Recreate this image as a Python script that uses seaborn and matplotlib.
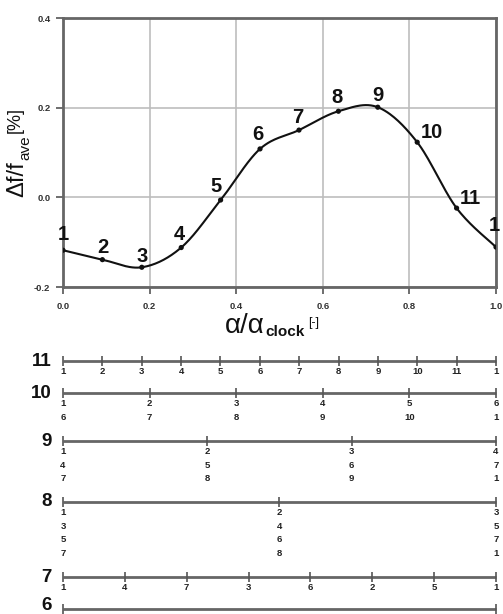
import numpy as np
import pandas as pd
import matplotlib
matplotlib.use("Agg")
import matplotlib.pyplot as plt
import seaborn as sns

# ---------------- data ----------------
point_labels = ['1', '2', '3', '4', '5', '6', '7', '8', '9', '10', '11', '1']
alpha_ratio = [0.000, 0.091, 0.182, 0.273, 0.364, 0.455, 0.545, 0.636, 0.727, 0.818, 0.909, 1.000]
delta_f = [-0.118, -0.139, -0.156, -0.112, -0.006, 0.108, 0.150, 0.192, 0.201, 0.123, -0.024, -0.111]

x_ticks = [0.0, 0.2, 0.4, 0.6, 0.8, 1.0]
y_ticks = [-0.2, 0.0, 0.2, 0.4]

row_names = ['11', '10', '9', '8', '7', '6']
row_11_labels = ['1', '2', '3', '4', '5', '6', '7', '8', '9', '10', '11', '1']
row_10_labels = ['1\n6', '2\n7', '3\n8', '4\n9', '5\n10', '6\n1']
row_9_labels = ['1\n4\n7', '2\n5\n8', '3\n6\n9', '4\n7\n1']
row_8_labels = ['1\n3\n5\n7', '2\n4\n6\n8', '3\n5\n7\n1']
row_7_labels = ['1', '4', '7', '3', '6', '2', '5', '1']
row_6_labels = ['', '']
row_labels = [row_11_labels, row_10_labels, row_9_labels, row_8_labels, row_7_labels, row_6_labels]

# ---------------- style ----------------
sns.set_theme(style="white")
plt.rcParams['font.family'] = ['Liberation Sans', 'DejaVu Sans']

W, H = 503, 614
fig = plt.figure(figsize=(W / 100, H / 100), dpi=100)
fig.patch.set_facecolor('white')


def fx(px):
    return px / W


def fy(py):
    return 1 - py / H


# ---------------- top chart ----------------
ax = fig.add_axes([fx(63), fy(287), 433 / W, 269 / H])

# smooth (Excel-like) curve through the points
P = np.column_stack([np.array(alpha_ratio), np.array(delta_f)])
Pext = np.vstack([P[0], P, P[-1]])
t = np.linspace(0, 1, 30)
xs, ys = [], []
for i in range(len(P) - 1):
    p0, p1, p2, p3 = Pext[i], Pext[i + 1], Pext[i + 2], Pext[i + 3]
    c1 = p1 + (p2 - p0) / 6
    c2 = p2 - (p3 - p1) / 6
    seg = ((1 - t) ** 3)[:, None] * p1 + (3 * (1 - t) ** 2 * t)[:, None] * c1 \
        + (3 * (1 - t) * t ** 2)[:, None] * c2 + (t ** 3)[:, None] * p2
    xs.extend(seg[:, 0])
    ys.extend(seg[:, 1])
curve = pd.DataFrame({'x': xs, 'y': ys})
sns.lineplot(data=curve, x='x', y='y', sort=False, color='#111111', lw=1.5, ax=ax)
pts = pd.DataFrame({'x': alpha_ratio, 'y': delta_f})
sns.scatterplot(data=pts, x='x', y='y', color='#111111', s=14, edgecolor='none', ax=ax, zorder=5)

label_offsets = [(0, 16), (0, 12), (0, 11), (-2, 13), (-5, 14), (-2, 14), (-1, 13),
                 (-1, 14), (0, 12), (4, 10), (3, 10), (-2, 22)]
label_ha = ['center'] * 9 + ['left', 'left', 'center']
for lab, x, y, off, ha in zip(point_labels, alpha_ratio, delta_f, label_offsets, label_ha):
    ax.annotate(lab, (x, y), xytext=off, textcoords='offset pixels', ha=ha, va='center',
                fontsize=14.5, fontweight='bold', color='#111111', annotation_clip=False)

ax.set_xlim(0, 1)
ax.set_ylim(-0.2, 0.4)
ax.set_xticks(x_ticks)
ax.set_yticks(y_ticks)
ax.set_xticklabels([f'{v:.1f}' for v in x_ticks], fontweight='bold')
ax.set_yticklabels([f'{v:.1f}' for v in y_ticks], fontweight='bold')
ax.tick_params(axis='both', which='both', bottom=True, left=True, direction='out',
               length=5, width=1.2, color='#555555', labelsize=6.8, labelcolor='#333333')
ax.tick_params(axis='x', pad=6)
ax.tick_params(axis='y', pad=4)
ax.grid(True, color='#bdbdbd', lw=1.2)
ax.set_axisbelow(True)
for s in ax.spines.values():
    s.set_color('#666666')
    s.set_linewidth(2)
ax.set_xlabel('')
ax.set_ylabel('')

# axis labels built from pieces
fig.canvas.draw()
r = fig.canvas.get_renderer()
t1 = fig.text(fx(225), fy(333), 'α/α', fontsize=20, va='baseline', ha='left', color='#111111')
bb = t1.get_window_extent(r)
t2 = fig.text((bb.x1 + 1) / W, fy(336), 'clock', fontsize=11, fontweight='bold',
              va='baseline', ha='left', color='#111111')
bb2 = t2.get_window_extent(r)
fig.text((bb2.x1 + 3) / W, fy(323), '[-]', fontsize=9, va='center', ha='left', color='#111111')

y1 = fig.text(fx(17), fy(197), 'Δf/f', fontsize=17, rotation=90, va='bottom', ha='center',
              color='#111111')
yb = y1.get_window_extent(r)
y2 = fig.text(fx(25), (yb.y1 + 1) / H, 'ave', fontsize=11, rotation=90, va='bottom',
              ha='center', color='#111111')
yb2 = y2.get_window_extent(r)
fig.text(fx(15), (yb2.y1 + 3) / H, '[%]', fontsize=13, rotation=90, va='bottom', ha='center',
         color='#111111')

# ---------------- lower diagrams ----------------
ax2 = fig.add_axes([fx(63), 0, 433 / W, (H - 340) / H])
ax2.set_xlim(0, 1)
ax2.set_ylim(H, 340)
ax2.axis('off')
row_y = [361, 393, 441, 502, 577, 609]
name_y = [361, 393, 441, 502, 577, 606]
for name, labels, y, ny in zip(row_names, row_labels, row_y, name_y):
    n = len(labels)
    xt = np.linspace(0, 1, n)
    ax2.plot([0, 1], [y, y], color='#666666', lw=2, solid_capstyle='butt', clip_on=False)
    ax2.plot(xt, [y] * n, ls='none', marker='|', ms=7, mew=1.2, color='#555555', clip_on=False)
    for x, lab in zip(xt, labels):
        ax2.text(x, y + 6, lab, ha='center', va='top', fontsize=6.8, fontweight='bold',
                 color='#222222', linespacing=1.65, clip_on=False)
    fig.text(fx(52), fy(ny), name, ha='right', va='center', fontsize=13.5, fontweight='bold',
             color='#111111')

fig.savefig('out.png', dpi=100, facecolor='white')
